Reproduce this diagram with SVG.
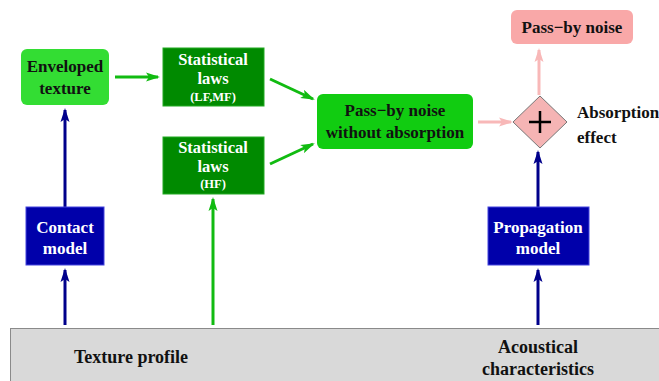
<svg xmlns="http://www.w3.org/2000/svg" width="659" height="381" viewBox="0 0 659 381">
<defs>
<style>
text{font-family:'Liberation Serif','DejaVu Serif',serif;font-weight:bold;text-anchor:middle}
.w{fill:#fff}
.k{fill:#111}
.gl{stroke:#11bb11;stroke-width:3;fill:none}
.bl{stroke:#00008b;stroke-width:3;fill:none}
.pl{stroke:#f8b8b8;stroke-width:3;fill:none}
</style>
<marker id="ag" markerWidth="14" markerHeight="10" refX="12" refY="5" orient="auto" markerUnits="userSpaceOnUse"><path d="M0,0.5 L14,5 L0,9.5 L3,5 Z" fill="#11bb11"/></marker>
<marker id="ab" markerWidth="14" markerHeight="10" refX="12" refY="5" orient="auto" markerUnits="userSpaceOnUse"><path d="M0,0.5 L14,5 L0,9.5 L3,5 Z" fill="#00008b"/></marker>
<marker id="ap" markerWidth="14" markerHeight="10" refX="12" refY="5" orient="auto" markerUnits="userSpaceOnUse"><path d="M0,0.5 L14,5 L0,9.5 L3,5 Z" fill="#f8b8b8"/></marker>
</defs>

<g id="base">
<rect x="10.5" y="328.5" width="660" height="60" fill="#d9d9d9" stroke="#8a8a8a" stroke-width="1"/>
<text x="131" y="363" font-size="18" class="k">Texture profile</text>
<text x="538" y="353" font-size="18" class="k">Acoustical</text>
<text x="538" y="375" font-size="18" class="k">characteristics</text>
</g>

<g id="connectors">
<line class="gl" x1="115" y1="77" x2="158" y2="77" marker-end="url(#ag)"/>
<line class="gl" x1="270" y1="79" x2="313" y2="99" marker-end="url(#ag)"/>
<line class="gl" x1="270" y1="164" x2="313" y2="144" marker-end="url(#ag)"/>
<line class="gl" x1="213" y1="325" x2="213" y2="199" marker-end="url(#ag)"/>
<line class="bl" x1="65" y1="325" x2="65" y2="270" marker-end="url(#ab)"/>
<line class="bl" x1="65" y1="207" x2="65" y2="110" marker-end="url(#ab)"/>
<line class="bl" x1="538" y1="325" x2="538" y2="270" marker-end="url(#ab)"/>
<line class="bl" x1="538" y1="207" x2="538" y2="152" marker-end="url(#ab)"/>
<line class="pl" x1="478" y1="122" x2="511" y2="122" marker-end="url(#ap)"/>
<line class="pl" x1="539" y1="95" x2="539" y2="50" marker-end="url(#ap)"/>
</g>

<g id="enveloped">
<rect x="21" y="49" width="88" height="56" rx="6" fill="#33dd33"/>
<text x="65" y="72" font-size="17" class="k">Enveloped</text>
<text x="65" y="94" font-size="17" class="k">texture</text>
</g>

<g id="stat-lfmf">
<rect x="163" y="48" width="101" height="58" fill="#008a00" stroke="#22aa22" stroke-width="1"/>
<text x="213" y="65" font-size="16.5" class="w">Statistical</text>
<text x="213" y="83.5" font-size="16.5" class="w">laws</text>
<text x="213" y="101" font-size="12.5" class="w">(LF,MF)</text>
</g>

<g id="stat-hf">
<rect x="163" y="137" width="101" height="57" fill="#008a00" stroke="#22aa22" stroke-width="1"/>
<text x="213" y="153" font-size="16.5" class="w">Statistical</text>
<text x="213" y="171.5" font-size="16.5" class="w">laws</text>
<text x="213" y="188" font-size="12.5" class="w">(HF)</text>
</g>

<g id="noise-wo">
<rect x="317" y="94" width="156" height="55" rx="6" fill="#11cc11"/>
<text x="395" y="116" font-size="17" class="k">Pass−by noise</text>
<text x="395" y="138" font-size="17" class="k">without absorption</text>
</g>

<g id="sum">
<path d="M540,96 L567,122 L540,148 L513,122 Z" fill="#f5b4b4" stroke="#777" stroke-width="1"/>
<path d="M540,111 V133 M529,122 H551" stroke="#000" stroke-width="2.5"/>
<text x="577" y="118" font-size="17" class="k" style="text-anchor:start">Absorption</text>
<text x="577" y="143" font-size="17" class="k" style="text-anchor:start">effect</text>
</g>

<g id="noise">
<rect x="511" y="10" width="122" height="34" rx="6" fill="#f9a8a8"/>
<text x="572" y="33" font-size="17" class="k">Pass−by noise</text>
</g>

<g id="contact">
<rect x="26" y="207" width="78" height="58" fill="#0000aa" stroke="#4444dd" stroke-width="1"/>
<text x="65" y="233" font-size="17" class="w">Contact</text>
<text x="65" y="254" font-size="17" class="w">model</text>
</g>

<g id="propagation">
<rect x="488" y="207" width="101" height="58" fill="#0000aa" stroke="#4444dd" stroke-width="1"/>
<text x="538" y="233" font-size="17" class="w">Propagation</text>
<text x="538" y="254" font-size="17" class="w">model</text>
</g>
</svg>
